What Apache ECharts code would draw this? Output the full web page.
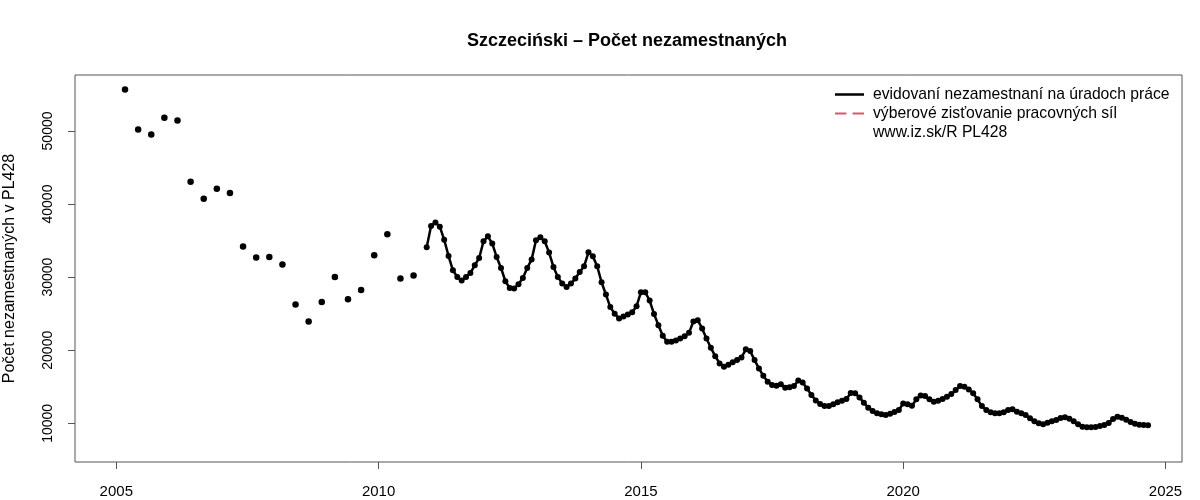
<!DOCTYPE html>
<html>
<head>
<meta charset="utf-8">
<script src="https://cdn.jsdelivr.net/npm/echarts@6/dist/echarts.min.js"></script>
<style>
  html, body { margin: 0; padding: 0; background: #fff; }
  #chart { width: 1200px; height: 500px; }
</style>
</head>
<body>
<div id="chart"></div>
<script>
// ---- data ----
const chartTitle = 'Szczeciński – Počet nezamestnaných';
const yAxisName = 'Počet nezamestnaných v PL428';
const seriesNames = ['evidovaní nezamestnaní na úradoch práce', 'výberové zisťovanie pracovných síl'];
const sourceNote = 'www.iz.sk/R PL428';
const xTicks = [2005, 2010, 2015, 2020, 2025];
const yTicks = [10000, 20000, 30000, 40000, 50000];

// quarterly values, first quarter = 2005 Q1 (plotted at last month of quarter)
const quarterStart = [2005, 1];
const quarterValues = [55670, 50200, 49520, 51800, 51430, 43060, 40740, 42100, 41500,
  34180, 32680, 32760, 31720, 26260, 23930, 26610, 30030, 26980, 28250, 32990, 35860,
  29810, 30220];

// monthly registered unemployed, first month = 2010-12
const monthStart = [2010, 12];
const monthValues = [
  34080,
  36990, 37460, 36910, 35130, 32890, 30940, 30030, 29530, 30030, 30570, 31620, 32620, // 2011
  34900, 35590, 34590, 32760, 31260, 29440, 28520, 28440, 29030, 29890, 31260, 32400, // 2012
  35040, 35450, 34900, 33360, 31390, 30030, 29120, 28660, 29120, 29810, 30710, 31490, // 2013
  33400, 32850, 31490, 29300, 27620, 25900, 25000, 24350, 24600, 24890, 25200, 26020, // 2014
  27920, 27920, 26800, 24960, 23430, 21970, 21150, 21150, 21340, 21610, 21930, 22380, // 2015
  23930, 24110, 22980, 21610, 20330, 19190, 18200, 17730, 18000, 18370, 18650, 18990, // 2016
  20120, 19880, 18650, 17510, 16500, 15680, 15230, 15140, 15330, 14860, 14920, 15100, // 2017
  15870, 15600, 14780, 13870, 13140, 12640, 12360, 12360, 12600, 12870, 13090, 13320, // 2018
  14140, 14100, 13550, 12810, 12130, 11680, 11370, 11230, 11150, 11300, 11550, 11820, // 2019
  12730, 12600, 12400, 13280, 13820, 13730, 13280, 12950, 13090, 13320, 13630, 14000, // 2020
  14550, 15100, 15000, 14640, 14100, 13280, 12360, 11820, 11500, 11370, 11370, 11500, // 2021
  11820, 11910, 11590, 11370, 11130, 10680, 10270, 10000, 9860, 10080, 10270, 10450,  // 2022
  10720, 10820, 10630, 10270, 9860, 9540, 9450, 9450, 9500, 9630, 9770, 10040,         // 2023
  10590, 10900, 10770, 10490, 10180, 9950, 9810, 9770, 9730                            // 2024
];

// ---- build series data ----
function monthTime(year, month) { return year + (month - 1) / 12; }
const quarterData = quarterValues.map((v, k) => {
  const q = quarterStart[1] - 1 + k;
  const y = quarterStart[0] + Math.floor(q / 4);
  const m = (q % 4) * 3 + 3;
  return [monthTime(y, m), v];
});
const monthData = monthValues.map((v, k) => {
  const idx = monthStart[1] - 1 + k;
  const y = monthStart[0] + Math.floor(idx / 12);
  const m = (idx % 12) + 1;
  return [monthTime(y, m), v];
});

const FONT = '"Liberation Sans", Arial, Helvetica, sans-serif';
const chart = echarts.init(document.getElementById('chart'), null, { renderer: 'canvas' });
chart.setOption({
  animation: false,
  backgroundColor: '#ffffff',
  textStyle: { fontFamily: FONT, color: '#000' },
  title: {
    text: chartTitle,
    left: 622, top: 27, textAlign: 'center',
    textStyle: { fontFamily: FONT, fontWeight: 'bold', fontSize: 18, color: '#000' }
  },
  grid: {
    left: 75, top: 75, right: 18, bottom: 38,
    containLabel: false, outerBoundsMode: 'none',
    show: true, borderColor: '#555', borderWidth: 1, backgroundColor: 'transparent'
  },
  legend: {
    orient: 'vertical', left: 830, top: 80,
    itemWidth: 29, itemHeight: 2.5, itemGap: 0,
    selectedMode: false,
    textStyle: { fontFamily: FONT, fontSize: 15.7, color: '#000', lineHeight: 19, padding: [0, 0, 0, 4] },
    data: [
      { name: seriesNames[0], icon: 'rect' },
      { name: seriesNames[1], icon: 'path://M0,0h11v2h-11z M17,0h11v2h-11z' }
    ]
  },
  graphic: [{
    type: 'text', left: 873, top: 125,
    style: { text: sourceNote, font: '15.7px ' + FONT, fill: '#000' }
  }],
  xAxis: {
    type: 'value', min: 2004.213, max: 2025.314,
    axisLine: { show: false },
    splitLine: { show: false },
    axisTick: { show: true, length: 7, lineStyle: { color: '#555' }, customValues: xTicks },
    axisLabel: { customValues: xTicks, margin: 22, fontSize: 15, color: '#000', fontFamily: FONT,
      formatter: v => String(v) }
  },
  yAxis: {
    type: 'value', min: 4710, max: 57655,
    name: yAxisName, nameLocation: 'middle', nameGap: 57, nameRotate: 90,
    nameTextStyle: { fontFamily: FONT, fontSize: 16, color: '#000' },
    axisLine: { show: false },
    splitLine: { show: false },
    axisTick: { show: true, length: 7, lineStyle: { color: '#555' }, customValues: yTicks },
    axisLabel: { customValues: yTicks, rotate: 90, margin: 20, fontSize: 14, color: '#000', fontFamily: FONT,
      formatter: v => String(v) }
  },
  series: [
    {
      name: seriesNames[0], type: 'line', data: monthData,
      color: '#000',
      symbol: 'circle', symbolSize: 6, showAllSymbol: true,
      lineStyle: { width: 2.5, color: '#000' },
      itemStyle: { color: '#000' },
      z: 3
    },
    {
      name: seriesNames[1], type: 'line', data: [],
      color: '#DF536B',
      lineStyle: { width: 2.5, type: 'dashed', color: '#DF536B' },
      itemStyle: { color: '#DF536B' }
    },
    {
      name: 'quarterly', type: 'scatter', data: quarterData,
      symbol: 'circle', symbolSize: 6.5,
      itemStyle: { color: '#000', opacity: 1 }
    }
  ]
});
</script>
</body>
</html>
